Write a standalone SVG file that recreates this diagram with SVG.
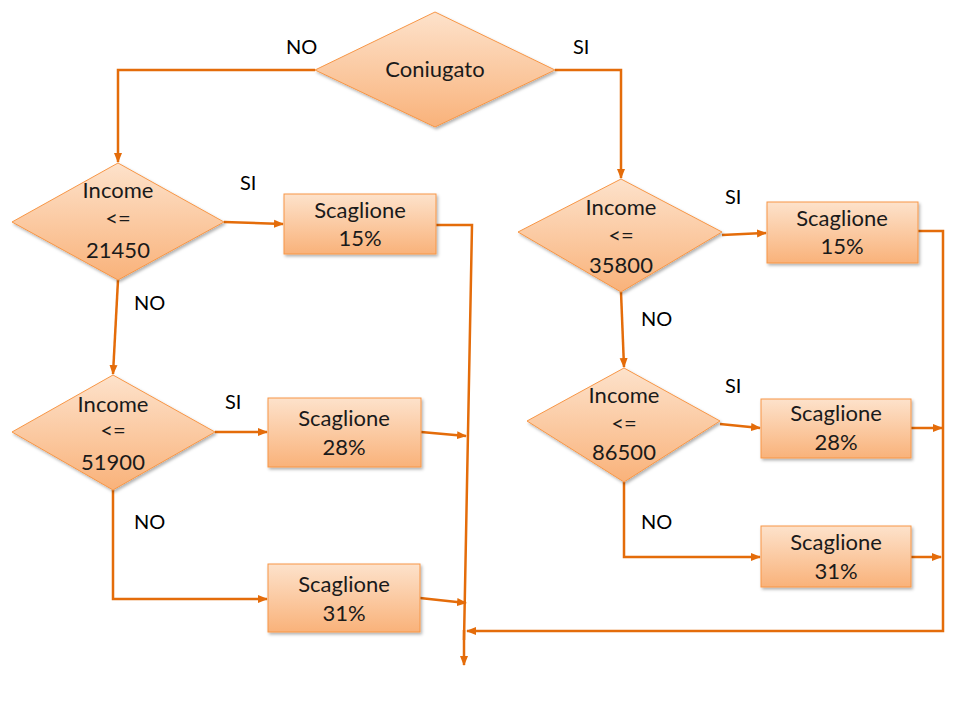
<svg xmlns="http://www.w3.org/2000/svg" width="960" height="720" viewBox="0 0 960 720">
<defs>
<linearGradient id="g" x1="0" y1="0" x2="0" y2="1">
<stop offset="0" stop-color="#fde2cb"/>
<stop offset="1" stop-color="#f9b27a"/>
</linearGradient>
<filter id="sh" x="-10%" y="-10%" width="130%" height="130%">
<feDropShadow dx="1.5" dy="2" stdDeviation="1.5" flood-color="#000" flood-opacity="0.3"/>
</filter>
<marker id="ah" viewBox="0 0 10 10" refX="9" refY="5" markerWidth="10" markerHeight="10" markerUnits="userSpaceOnUse" orient="auto">
<path d="M0,1 L10,5 L0,9 z" fill="#e46c0a"/>
</marker>
<style>
.n{fill:url(#g);stroke:#f79646;stroke-width:1;filter:url(#sh)}
.t{font-family:Lato,"Open Sans",sans-serif;font-size:22px;fill:#1a1a1a;text-anchor:middle}
.l{font-family:Lato,"Open Sans",sans-serif;font-size:20px;fill:#000}
.c{fill:none;stroke:#e46c0a;stroke-width:2.5}
.a{marker-end:url(#ah)}
</style>
</defs>
<rect width="960" height="720" fill="#fff"/>
<g id="connectors">
<path class="c a" d="M315,70 H118 V162"/>
<path class="c a" d="M555,70 H621 V178"/>
<path class="c a" d="M224,222 L283,224"/>
<path class="c" d="M436,225 H472 L464,640"/>
<path class="c a" d="M464,630 L464,665"/>
<path class="c a" d="M118,280 L113,374"/>
<path class="c a" d="M215,432 H267"/>
<path class="c a" d="M421,432 L466,436"/>
<path class="c a" d="M113,490 V599 H267"/>
<path class="c a" d="M420,598 L466,603"/>
<path class="c a" d="M722,235 L766,233"/>
<path class="c a" d="M918,231 H943 V631 H467"/>
<path class="c a" d="M621,292 L624,367"/>
<path class="c a" d="M720,424 L760,428"/>
<path class="c a" d="M911,428 H942"/>
<path class="c a" d="M624,482 V557 H760"/>
<path class="c a" d="M911,557 H941"/>
</g>
<g id="labels">
<text class="l" x="286" y="54">NO</text>
<text class="l" x="573" y="54">SI</text>
<text class="l" x="240" y="190">SI</text>
<text class="l" x="134" y="310">NO</text>
<text class="l" x="225" y="409">SI</text>
<text class="l" x="134" y="529">NO</text>
<text class="l" x="725" y="204">SI</text>
<text class="l" x="641" y="326">NO</text>
<text class="l" x="725" y="393">SI</text>
<text class="l" x="641" y="529">NO</text>
</g>
<g id="coniugato">
<polygon class="n" points="435,12 555,70 435,127 315,70"/>
<text class="t" x="435" y="77">Coniugato</text>
</g>
<g id="d21450">
<polygon class="n" points="118,163 224,222 118,280 12,222"/>
<text class="t" x="118" y="198">Income</text>
<text class="t" x="118" y="226">&lt;=</text>
<text class="t" x="118" y="258">21450</text>
</g>
<g id="b15l">
<rect class="n" x="284" y="194" width="152" height="60"/>
<text class="t" x="360" y="218">Scaglione</text>
<text class="t" x="360" y="246">15%</text>
</g>
<g id="d51900">
<polygon class="n" points="113,375 215,432 113,490 12,432"/>
<text class="t" x="113" y="412">Income</text>
<text class="t" x="113" y="438">&lt;=</text>
<text class="t" x="113" y="470">51900</text>
</g>
<g id="b28l">
<rect class="n" x="268" y="398" width="153" height="69"/>
<text class="t" x="344" y="426">Scaglione</text>
<text class="t" x="344" y="455">28%</text>
</g>
<g id="b31l">
<rect class="n" x="268" y="564" width="152" height="68"/>
<text class="t" x="344" y="592">Scaglione</text>
<text class="t" x="344" y="621">31%</text>
</g>
<g id="d35800">
<polygon class="n" points="621,179 722,232 621,292 518,232"/>
<text class="t" x="621" y="215">Income</text>
<text class="t" x="621" y="243">&lt;=</text>
<text class="t" x="621" y="273">35800</text>
</g>
<g id="b15r">
<rect class="n" x="767" y="202" width="151" height="61"/>
<text class="t" x="842" y="226">Scaglione</text>
<text class="t" x="842" y="254">15%</text>
</g>
<g id="d86500">
<polygon class="n" points="624,368 720,421 624,482 527,421"/>
<text class="t" x="624" y="403">Income</text>
<text class="t" x="624" y="431">&lt;=</text>
<text class="t" x="624" y="460">86500</text>
</g>
<g id="b28r">
<rect class="n" x="761" y="399" width="150" height="59"/>
<text class="t" x="836" y="421">Scaglione</text>
<text class="t" x="836" y="450">28%</text>
</g>
<g id="b31r">
<rect class="n" x="761" y="526" width="150" height="61"/>
<text class="t" x="836" y="550">Scaglione</text>
<text class="t" x="836" y="579">31%</text>
</g>
</svg>
